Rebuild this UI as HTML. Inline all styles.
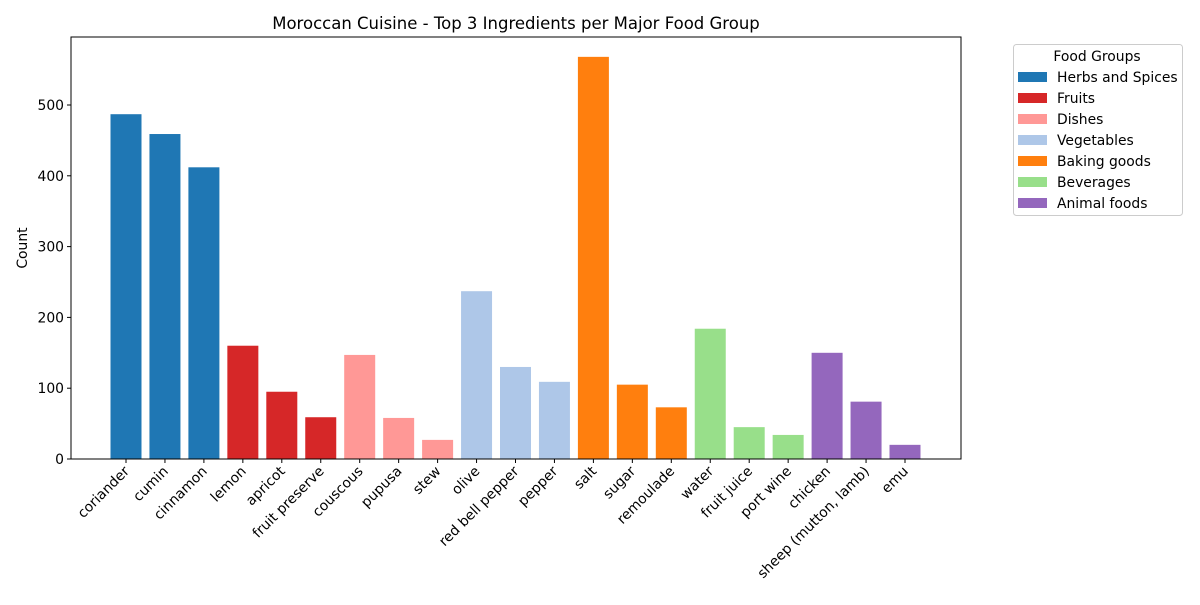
<!DOCTYPE html>
<html><head><meta charset="utf-8"><style>
body{margin:0;background:#fff;font-family:"Liberation Sans","DejaVu Sans",sans-serif}
svg text{font-family:"DejaVu Sans","Liberation Sans",sans-serif;fill:#000}
</style></head><body>
<svg id="chart" width="1200" height="600" xmlns="http://www.w3.org/2000/svg"></svg>
<script>
const categories=["coriander","cumin","cinnamon","lemon","apricot","fruit preserve","couscous","pupusa","stew","olive","red bell pepper","pepper","salt","sugar","remoulade","water","fruit juice","port wine","chicken","sheep (mutton, lamb)","emu"];
const counts=[487,459,412,160,95,59,147,58,27,237,130,109,568,105,73,184,45,34,150,81,20];
const groupOf=[0,0,0,1,1,1,2,2,2,3,3,3,4,4,4,5,5,5,6,6,6];
const groups=["Herbs and Spices","Fruits","Dishes","Vegetables","Baking goods","Beverages","Animal foods"];
const colors=["#1f77b4","#d62728","#ff9896","#aec7e8","#ff7f0e","#98df8a","#9467bd"];
const yTicks=[0,100,200,300,400,500];

const svg=document.getElementById('chart');
const NS='http://www.w3.org/2000/svg';
function mk(t,a,txt){const e=document.createElementNS(NS,t);for(const k in a)e.setAttribute(k,a[k]);if(txt!=null)e.textContent=txt;svg.appendChild(e);return e;}
const L=71,R=961,T=37,B=459;
const y=v=>B-v*0.708;
const x=i=>126+i*38.95;
const bw=31;

let e=mk('text',{x:516,y:29,'text-anchor':'middle','font-size':16.5},'Moroccan Cuisine - Top 3 Ingredients per Major Food Group');


counts.forEach((v,i)=>{
  const r=mk('rect',{x:x(i)-bw/2,y:y(v),width:bw,height:B-y(v),fill:colors[groupOf[i]]});
  
  
  mk('line',{x1:x(i),x2:x(i),y1:B,y2:B+4,stroke:'#000','stroke-width':1});
  const ax=x(i)+4, ay=B+13;
  const t=mk('text',{x:ax,y:ay,'text-anchor':'end','font-size':13.9,transform:`rotate(-45 ${ax} ${ay})`},categories[i]);
  
  
});
yTicks.forEach(v=>{
  mk('line',{x1:L-4,x2:L,y1:y(v),y2:y(v),stroke:'#000'});
  const t=mk('text',{x:L-7,y:y(v)+5,'text-anchor':'end','font-size':13.9},v);
  
  
});
e=mk('rect',{x:L,y:T,width:R-L,height:B-T,fill:'none',stroke:'#000','stroke-width':1});

e=mk('text',{x:27,y:248,'text-anchor':'middle','font-size':13.9,transform:'rotate(-90 27 248)'},'Count');


e=mk('rect',{x:1013.5,y:44.5,width:169,height:171,rx:3,fill:'#fff',stroke:'#ccc'});

e=mk('text',{x:1097,y:61,'text-anchor':'middle','font-size':13.9},'Food Groups');

groups.forEach((g,i)=>{
  const yy=77+i*21;
  const p=mk('rect',{x:1018,y:yy-5,width:29,height:10,fill:colors[i]});
  
  
  const t=mk('text',{x:1057,y:yy+5,'font-size':13.9},g);
  
  
});
</script>
</body></html>
